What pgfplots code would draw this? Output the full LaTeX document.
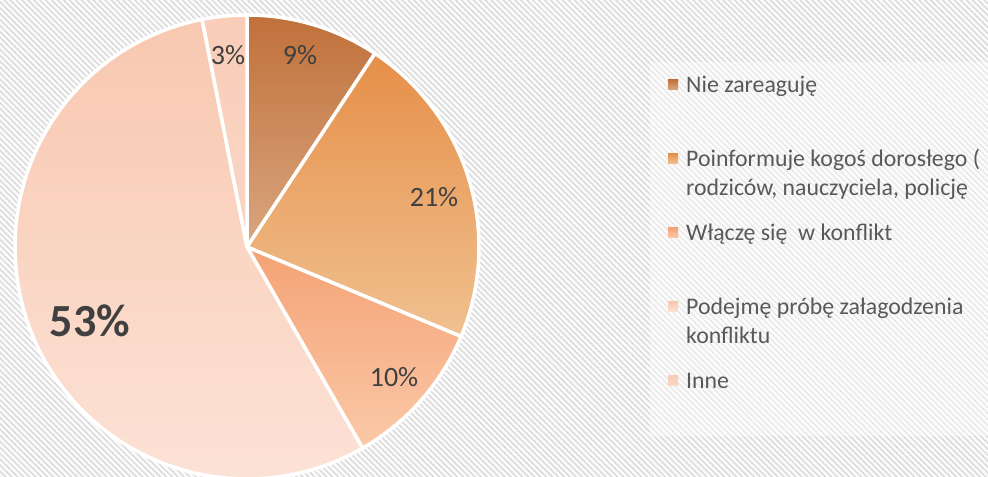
\documentclass[border=0pt]{standalone}
\usepackage{pgfplots}
\pgfplotsset{compat=1.18}
\usepackage{fontspec}
\setmainfont{Carlito}
\usetikzlibrary{patterns.meta}
\definecolor{aT}{HTML}{C0703A}\definecolor{aB}{HTML}{D9A67F}
\definecolor{bT}{HTML}{E68F48}\definecolor{bB}{HTML}{F0C190}
\definecolor{cT}{HTML}{F4A274}\definecolor{cB}{HTML}{FAC9A8}
\definecolor{dT}{HTML}{F8C8B0}\definecolor{dB}{HTML}{FCE2D6}
\definecolor{eT}{HTML}{F9CDB8}\definecolor{eB}{HTML}{FAD6C6}
\definecolor{hatch}{HTML}{D9D9D9}
\definecolor{bgw}{HTML}{FBFBFB}
\definecolor{legtext}{HTML}{595959}
\definecolor{lbltext}{HTML}{404040}
% slice values (percent of full circle, read from the angles)
\def\vA{9.3}\def\vB{22.0}\def\vC{10.4}\def\vD{55.2}\def\vE{3.1}
\begin{document}
\begin{tikzpicture}
\pgfmathsetmacro\aA{90}
\pgfmathsetmacro\aB{\aA-3.6*\vA}
\pgfmathsetmacro\aC{\aB-3.6*\vB}
\pgfmathsetmacro\aD{\aC-3.6*\vC}
\pgfmathsetmacro\aE{\aD-3.6*\vD}
\pgfmathsetmacro\aF{\aE-3.6*\vE}
\begin{axis}[
  width=988bp, height=477bp, scale only axis,
  xmin=0, xmax=988, ymin=0, ymax=477,
  hide axis, clip=true,
  legend style={at={(axis cs:650,415)}, anchor=north west,
    draw=none, fill=white, fill opacity=0.4, text opacity=1,
    inner xsep=18bp, inner ysep=9.7bp, row sep=16bp, column sep=8bp,
    font=\fontsize{23.8bp}{29bp}\selectfont, text=legtext,
    cells={anchor=base west}, nodes={inner sep=0pt, text depth=, text height=}},
]
\addplot[forget plot, draw=none, preaction={fill=bgw},
  pattern={Lines[angle=-45,distance=4.2bp,line width=1.4bp]}, pattern color=hatch]
  coordinates {(0,0) (988,0) (988,477) (0,477)} -- cycle;

\addplot[draw=white, line width=3.5bp, top color=aT, bottom color=aB,
  domain=\aB:\aA, samples=60, variable=\t,
  legend image code/.code={\shade[top color=aT,bottom color=aB,draw=none,opacity=1] (0bp,2.5bp) rectangle (10bp,12.5bp);}]
  ({247+232*cos(\t)},{230+232*sin(\t)}) -- (axis cs:247,230) -- cycle;
\addlegendentry{\parbox[t]{300bp}{\strut Nie zareaguję\\\strut}}

\addplot[draw=white, line width=3.5bp, top color=bT, bottom color=bB,
  domain=\aC:\aB, samples=80, variable=\t,
  legend image code/.code={\shade[top color=bT,bottom color=bB,draw=none,opacity=1] (0bp,2.5bp) rectangle (10bp,12.5bp);}]
  ({247+232*cos(\t)},{230+232*sin(\t)}) -- (axis cs:247,230) -- cycle;
\addlegendentry{\parbox[t]{300bp}{\strut Poinformuje kogoś dorosłego (\\\strut rodziców, nauczyciela, policję}}

\addplot[draw=white, line width=3.5bp, top color=cT, bottom color=cB,
  domain=\aD:\aC, samples=60, variable=\t,
  legend image code/.code={\shade[top color=cT,bottom color=cB,draw=none,opacity=1] (0bp,2.5bp) rectangle (10bp,12.5bp);}]
  ({247+232*cos(\t)},{230+232*sin(\t)}) -- (axis cs:247,230) -- cycle;
\addlegendentry{\parbox[t]{300bp}{\strut Włączę się\ \ w konflikt\\\strut}}

\addplot[draw=white, line width=3.5bp, top color=dT, bottom color=dB,
  domain=\aE:\aD, samples=150, variable=\t,
  legend image code/.code={\shade[top color=dT,bottom color=dB,draw=none,opacity=1] (0bp,2.5bp) rectangle (10bp,12.5bp);}]
  ({247+232*cos(\t)},{230+232*sin(\t)}) -- (axis cs:247,230) -- cycle;
\addlegendentry{\parbox[t]{300bp}{\strut Podejmę próbę załagodzenia\\\strut konfliktu}}

\addplot[draw=white, line width=3.5bp, top color=eT, bottom color=eB,
  domain=\aF:\aE, samples=30, variable=\t,
  legend image code/.code={\shade[top color=eT,bottom color=eB,draw=none,opacity=1] (0bp,2.5bp) rectangle (10bp,12.5bp);}]
  ({247+232*cos(\t)},{230+232*sin(\t)}) -- (axis cs:247,230) -- cycle;
\addlegendentry{\parbox[t]{300bp}{\strut Inne\\\strut}}

\begin{scope}[every node/.style={text=lbltext, inner sep=0pt, anchor=base,
    font=\fontsize{28bp}{30bp}\selectfont}]
\node at (axis cs:300,412) {9\%};
\node at (axis cs:228,412) {3\%};
\node at (axis cs:434,270) {21\%};
\node at (axis cs:394,90) {10\%};
\node[font=\fontsize{46bp}{48bp}\selectfont\bfseries] at (axis cs:90,140) {53\%};
\end{scope}
\end{axis}
\pgfresetboundingbox
\useasboundingbox (0,0) rectangle (988bp,477bp);
\end{tikzpicture}
\end{document}
